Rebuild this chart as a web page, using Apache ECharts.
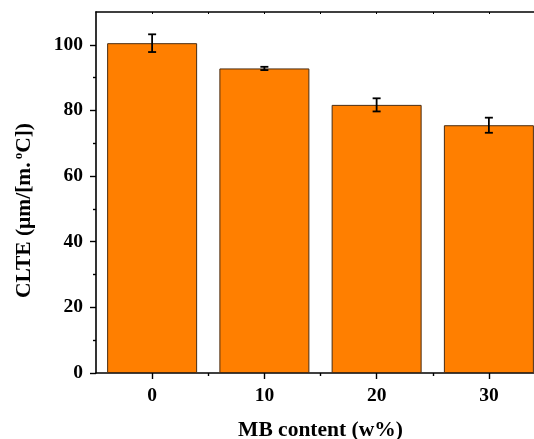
<!DOCTYPE html>
<html>
<head>
<meta charset="utf-8">
<script src="https://cdn.jsdelivr.net/npm/echarts@6/dist/echarts.min.js"></script>
<style>
  html, body { margin: 0; padding: 0; background: #fff; }
  #chart { width: 534px; height: 439px; }
</style>
</head>
<body>
<div id="chart"></div>
<script>
// MB content (w%) and measured CLTE with standard deviation
const mbContent = [0, 10, 20, 30];
const clte = [100.5, 92.8, 81.7, 75.5];
const clteErr = [2.7, 0.5, 2.0, 2.3];
const yTicks = [0, 20, 40, 60, 80, 100];

const FONT = '"Liberation Serif", "Times New Roman", serif';
const AXIS_COLOR = '#000';

const chart = echarts.init(document.getElementById('chart'));

const barData = mbContent.map((x, i) => [x, clte[i]]);
const errData = mbContent.map((x, i) => [x, clte[i] - clteErr[i], clte[i] + clteErr[i]]);
const minorX = mbContent.slice(0, -1).map((x, i) => (x + mbContent[i + 1]) / 2);

const baseX = {
  type: 'value', min: -5, max: 35, interval: 5,
  splitLine: { show: false }
};

chart.setOption({
  animation: false,
  backgroundColor: '#fff',
  grid: { left: 96, top: 12, width: 449, height: 361, outerBoundsMode: 'none', containLabel: false },
  xAxis: [
    Object.assign({}, baseX, {
      position: 'bottom',
      name: 'MB content (w%)',
      nameLocation: 'middle',
      nameGap: 46,
      nameTextStyle: { fontFamily: FONT, fontWeight: 'bold', fontSize: 21.5, color: '#000' },
      axisLine: { show: true, onZero: false, lineStyle: { color: AXIS_COLOR, width: 1.6 } },
      axisTick: { show: true, length: 6, customValues: mbContent, lineStyle: { color: AXIS_COLOR, width: 1.4 } },
      axisLabel: { customValues: mbContent, margin: 13, fontFamily: FONT, fontWeight: 'bold', fontSize: 19.5, color: '#000' }
    }),
    Object.assign({}, baseX, {
      position: 'bottom',
      axisLine: { show: false, onZero: false },
      axisTick: { show: true, length: 3, customValues: minorX, lineStyle: { color: AXIS_COLOR, width: 1.4 } },
      axisLabel: { show: false }
    }),
    Object.assign({}, baseX, {
      position: 'top',
      axisLine: { show: true, onZero: false, lineStyle: { color: AXIS_COLOR, width: 1.6 } },
      axisTick: { show: true, inside: true, length: 2, customValues: mbContent.concat(minorX), lineStyle: { color: AXIS_COLOR, width: 1 } },
      axisLabel: { show: false }
    })
  ],
  yAxis: {
    type: 'value', min: 0, max: 110, interval: 20,
    name: 'CLTE (μm/[m.{sup|o}C])',
    nameLocation: 'middle',
    nameGap: 60,
    nameTextStyle: {
      fontFamily: FONT, fontWeight: 'bold', fontSize: 21.5, color: '#000',
      padding: [0, 36, 0, 0],
      rich: {
        sup: { fontFamily: FONT, fontWeight: 'bold', fontSize: 13, color: '#000', verticalAlign: 'top', padding: [0, 0, 11, 3] }
      }
    },
    splitLine: { show: false },
    axisLine: { show: true, onZero: false, lineStyle: { color: AXIS_COLOR, width: 1.6 } },
    axisTick: { show: true, length: 6, customValues: yTicks, lineStyle: { color: AXIS_COLOR, width: 1.4 } },
    minorTick: { show: true, splitNumber: 2, length: 3, lineStyle: { color: AXIS_COLOR, width: 1.4 } },
    axisLabel: { customValues: yTicks, margin: 13, fontFamily: FONT, fontWeight: 'bold', fontSize: 19.5, color: '#000' }
  },
  series: [
    {
      type: 'bar',
      xAxisIndex: 0,
      data: barData,
      barWidth: 90,
      itemStyle: { color: '#FF7F00', borderColor: '#4a2c10', borderWidth: 1 }
    },
    {
      type: 'custom',
      xAxisIndex: 0,
      data: errData,
      z: 10,
      renderItem: function (params, api) {
        const x = api.value(0);
        const lo = api.coord([x, api.value(1)]);
        const hi = api.coord([x, api.value(2)]);
        const half = 4;
        const style = { stroke: '#000', lineWidth: 1.8 };
        return {
          type: 'group',
          children: [
            { type: 'line', shape: { x1: lo[0], y1: lo[1], x2: hi[0], y2: hi[1] }, style: style },
            { type: 'line', shape: { x1: hi[0] - half, y1: hi[1], x2: hi[0] + half, y2: hi[1] }, style: style },
            { type: 'line', shape: { x1: lo[0] - half, y1: lo[1], x2: lo[0] + half, y2: lo[1] }, style: style }
          ]
        };
      }
    }
  ]
});
</script>
</body>
</html>
